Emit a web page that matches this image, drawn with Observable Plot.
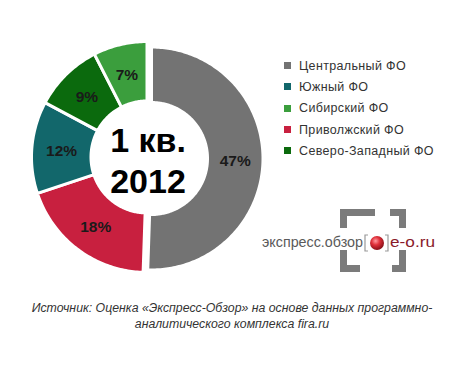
<!DOCTYPE html>
<html><head><meta charset="utf-8">
<script src="https://cdn.jsdelivr.net/npm/d3@7"></script>
<script src="https://cdn.jsdelivr.net/npm/@observablehq/plot@0.6"></script>
<style>
body{margin:0;background:#fff;}
#wrap{position:relative;width:464px;height:374px;background:#fff;overflow:hidden;font-family:"Liberation Sans",Arial,sans-serif;}
#chart{position:absolute;left:0;top:0;}
#legend{position:absolute;left:284px;top:55px;}
.row{display:flex;align-items:center;height:21.3px;font-size:12.5px;color:#333;letter-spacing:0.35px;}
.sw{width:7px;height:7px;margin-right:8px;}
#caption{position:absolute;left:0;top:300px;width:464px;text-align:center;font-style:italic;font-size:12.3px;line-height:16px;color:#333;}
#logo{position:absolute;left:0;top:0;}
</style></head>
<body><div id="wrap"><div id="chart"></div><div id="legend"></div><svg id="logo" width="464" height="374"></svg><div id="caption"></div></div>
<script>
// Data
const regions = ["Центральный ФО", "Приволжский ФО", "Южный ФО", "Северо-Западный ФО", "Сибирский ФО"];
const shares = [47, 18, 12, 9, 7];
const colors = ["#737373", "#c8203f", "#12676b", "#0b6a0d", "#3b9e3d"];
const legendOrder = ["Центральный ФО", "Южный ФО", "Сибирский ФО", "Приволжский ФО", "Северо-Западный ФО"];
const centerLines = ["1 кв.", "2012"];
const captionLines = ["Источник: Оценка «Экспресс-Обзор» на основе данных программно-", "аналитического комплекса fira.ru"];

const W = 464, H = 290;
const cx = 146.5, cy = 156.5, rOut = 115.5, rIn = 56;
// per-slice geometry tweaks (the big slice is pulled out and slightly smaller)
const sliceStyle = {"Центральный ФО": {dx: 4.5, dy: 1.5, rOut: 111.5}};

const pie = d3.pie().sort(null).value(d => d.value)(regions.map((name, i) => ({name, value: shares[i], color: colors[i]})));

function geom(p) {
  const s = sliceStyle[p.data.name] || {};
  return {ox: cx + (s.dx || 0), oy: cy + (s.dy || 0), ro: s.rOut || rOut};
}

function arcPoints(p) {
  const {ox, oy, ro} = geom(p);
  const pts = [];
  const n = Math.max(8, Math.ceil((p.endAngle - p.startAngle) * 60));
  for (let k = 0; k <= n; k++) {
    const a = p.startAngle + (p.endAngle - p.startAngle) * k / n;
    pts.push({x: ox + ro * Math.sin(a), y: oy - ro * Math.cos(a)});
  }
  for (let k = n; k >= 0; k--) {
    const a = p.startAngle + (p.endAngle - p.startAngle) * k / n;
    pts.push({x: ox + rIn * Math.sin(a), y: oy - rIn * Math.cos(a)});
  }
  pts.push(pts[0]);
  return pts;
}

const labels = pie.map(p => {
  const mid = (p.startAngle + p.endAngle) / 2;
  const {ox, oy, ro} = geom(p);
  const r = (ro + rIn) / 2;
  return {x: ox + r * Math.sin(mid), y: oy - r * Math.cos(mid) + 1, text: p.data.value + "%"};
});

const centerText = centerLines.map((t, i) => ({x: cx + 1, y: cy - 15.5 + i * 41, text: t}));

const chart = Plot.plot({
  width: W, height: H,
  margin: 0,
  x: {domain: [0, W], range: [0, W], axis: null},
  y: {domain: [0, H], range: [0, H], axis: null},
  style: {background: "transparent"},
  marks: [
    ...pie.map(p => Plot.line(arcPoints(p), {x: "x", y: "y", fill: p.data.color, stroke: "white", strokeWidth: 3, strokeLinejoin: "round", curve: "linear"})),
    Plot.text(labels, {x: "x", y: "y", text: "text", fill: "#1a1a1a", fontSize: 15.5, fontWeight: "bold", fontFamily: "Liberation Sans, Arial, sans-serif"}),
    Plot.text(centerText, {x: "x", y: "y", text: "text", fill: "#000", fontSize: 34, fontWeight: "bold", fontFamily: "Liberation Sans, Arial, sans-serif"})
  ]
});
document.getElementById("chart").appendChild(chart);

// Legend
const leg = document.getElementById("legend");
legendOrder.forEach(name => {
  const i = regions.indexOf(name);
  const row = document.createElement("div");
  row.className = "row";
  row.innerHTML = `<div class="sw" style="background:${colors[i]}"></div><span>${name}</span>`;
  leg.appendChild(row);
});

// Caption
document.getElementById("caption").innerHTML = captionLines.join("<br>");

// Logo (decoration)
const logo = d3.select("#logo");
const defs = logo.append("defs");
const g = defs.append("radialGradient").attr("id", "ball").attr("cx", "40%").attr("cy", "35%").attr("r", "65%");
g.append("stop").attr("offset", "0%").attr("stop-color", "#ff9aa0");
g.append("stop").attr("offset", "45%").attr("stop-color", "#e0303a");
g.append("stop").attr("offset", "100%").attr("stop-color", "#8a0f18");
const bc = "#7b7b7b";
const bracket = [
  "M340,209 H375 V216 H347 V228 H340 Z",
  "M390,209 H406 V228 H399 V216 H390 Z",
  "M340,250 H347 V265 H360 V272 H340 Z",
  "M399,250 H406 V272 H392 V265 H399 Z"
];
bracket.forEach(d => logo.append("path").attr("d", d).attr("fill", bc));
logo.append("text").attr("x", 262).attr("y", 247).attr("font-family", "Liberation Sans, Arial, sans-serif")
  .attr("font-size", 15).attr("fill", "#5a5a5a").attr("textLength", 101).attr("lengthAdjust", "spacingAndGlyphs").text("экспресс.обзор");
logo.append("path").attr("d", "M368,235 h-3 v16 h3").attr("fill", "none").attr("stroke", "#999").attr("stroke-width", 1.2);
logo.append("path").attr("d", "M385,235 h3 v16 h-3").attr("fill", "none").attr("stroke", "#999").attr("stroke-width", 1.2);
logo.append("circle").attr("cx", 377).attr("cy", 243).attr("r", 7).attr("fill", "url(#ball)");
logo.append("text").attr("x", 390).attr("y", 247).attr("font-family", "Liberation Sans, Arial, sans-serif")
  .attr("font-size", 15).attr("fill", "#8a1a2a").attr("textLength", 45).attr("lengthAdjust", "spacingAndGlyphs").text("e-o.ru");
</script></body></html>
